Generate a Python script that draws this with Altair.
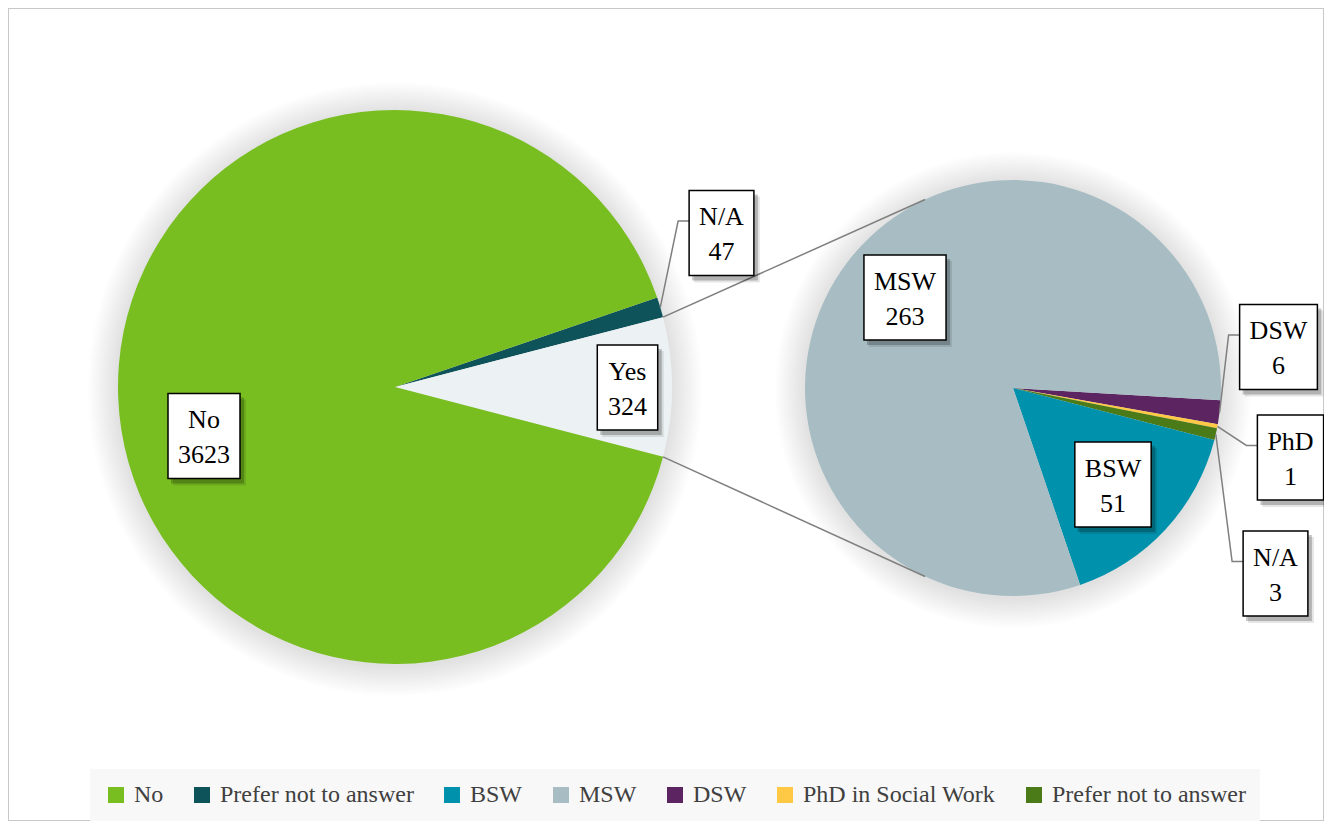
import math
import altair as alt
import pandas as pd

# ---------------- data ----------------
main_categories = ["No", "Prefer not to answer", "Yes"]
main_labels = ["No", "N/A", "Yes"]
main_values = [3623, 47, 324]

sub_categories = ["MSW", "BSW", "DSW", "PhD in Social Work", "Prefer not to answer"]
sub_labels = ["MSW", "BSW", "DSW", "PhD", "N/A"]
sub_values = [263, 51, 6, 1, 3]

legend_keys = ["No", "Prefer not to answer", "BSW", "MSW", "DSW",
               "PhD in Social Work", "Prefer not to answer (sub)"]

# ---------------- layout / style ----------------
W, H = 1316, 813
FONT = "Liberation Serif"
LEFT = dict(cx=387.0, cy=379.0, r=277.0)
RIGHT = dict(cx=1005.0, cy=380.0, r=208.0)
legend_colors = ["#78BE21", "#0E525A", "#0092AC", "#A7BDC3", "#5C2561", "#FFC845", "#4B7A19"]
yes_color = "#ECF2F3"
main_draw = ["N/A", "Yes", "No"]
sub_draw = ["DSW", "PhD", "N/A", "BSW", "MSW"]
sub_start_deg = 93.4
connector_deg = 25.0
label_offsets = {
    ("main", "No"): (-191, 49), ("main", "N/A"): (326.5, -154), ("main", "Yes"): (232.5, 0.5),
    ("sub", "MSW"): (-108, -90.5), ("sub", "BSW"): (100, 96.5), ("sub", "DSW"): (265.5, -41),
    ("sub", "PhD"): (277.5, 69.5), ("sub", "N/A"): (262.5, 185.5),
}
leader_labels = {("main", "N/A"), ("sub", "DSW"), ("sub", "PhD"), ("sub", "N/A")}
LABEL_FS = 26
BOX_H = 85
CW = {'N': .722, 'o': .5, '/': .278, 'A': .722, 'Y': .722, 'e': .444, 's': .389, 'M': .889,
      'S': .556, 'W': .944, 'B': .667, 'D': .722, 'P': .556, 'h': .5}


def text_w(s):
    return sum(CW.get(c, 0.5) for c in s) * LABEL_FS


def polar(c, r, deg):
    a = math.radians(deg)
    return c["cx"] + r * math.sin(a), c["cy"] - r * math.cos(a)


def slices(pie, labels, cats, values, order, start):
    total = sum(values)
    rows, ang = [], start
    for k, lab in enumerate(order):
        i = labels.index(lab)
        span = values[i] / total * 360
        cat = cats[i]
        if pie == "sub" and cat == "Prefer not to answer":
            cat = "Prefer not to answer (sub)"
        rows.append(dict(pie=pie, label=lab, key=cat, value=values[i], ord=k,
                         a0=ang, a1=ang + span, mid=ang + span / 2))
        ang += span
    return rows, total


main_total = sum(main_values)
main_start = 90 - (main_values[2] / 2 + main_values[1]) / main_total * 360
main_rows, _ = slices("main", main_labels, main_categories, main_values, main_draw, main_start)
sub_rows, sub_total = slices("sub", sub_labels, sub_categories, sub_values, sub_draw, sub_start_deg)
main_df = pd.DataFrame(main_rows)
sub_df = pd.DataFrame(sub_rows)

# label boxes
boxes = []
leaders = []
for rows, pie, geo in ((main_rows, "main", LEFT), (sub_rows, "sub", RIGHT)):
    for row in rows:
        lab = row["label"]
        dx, dy = label_offsets[(pie, lab)]
        bx, by = geo["cx"] + dx, geo["cy"] + dy
        bw = max(text_w(lab), text_w(str(row["value"]))) + 20
        boxes.append(dict(name=lab, val=str(row["value"]), cx=bx, cy=by,
                          x1=bx - bw / 2, x2=bx + bw / 2, y1=by - BOX_H / 2, y2=by + BOX_H / 2,
                          ty1=by - 8, ty2=by + 27))
        if (pie, lab) in leader_labels:
            ex, ey = polar(geo, geo["r"], row["mid"])
            lx = bx - bw / 2
            ly = by - 12
            lid = pie + lab
            leaders += [dict(id=lid, o=0, x=ex, y=ey), dict(id=lid, o=1, x=lx - 11, y=ly),
                        dict(id=lid, o=2, x=lx, y=ly)]
box_df = pd.DataFrame(boxes)
leader_df = pd.DataFrame(leaders)

# connector lines between the pies
yes_row = [r for r in main_rows if r["label"] == "Yes"][0]
p_top = polar(LEFT, LEFT["r"], yes_row["a0"])
p_bot = polar(LEFT, LEFT["r"], yes_row["a1"])
q_top = polar(RIGHT, RIGHT["r"], 360 - connector_deg)
q_bot = polar(RIGHT, RIGHT["r"], 180 + connector_deg)
conn_df = pd.DataFrame([
    dict(id="t", o=0, x=p_top[0], y=p_top[1]), dict(id="t", o=1, x=q_top[0], y=q_top[1]),
    dict(id="b", o=0, x=p_bot[0], y=p_bot[1]), dict(id="b", o=1, x=q_bot[0], y=q_bot[1]),
])

# ---------------- chart ----------------
xs = alt.Scale(domain=[0, W], range=[0, W], nice=False, zero=False)
ys = alt.Scale(domain=[0, H], range=[0, H], nice=False, zero=False)
color_scale = alt.Scale(domain=legend_keys + ["Yes"], range=legend_colors + [yes_color])
legend = alt.Legend(
    title=None, orient="none", legendX=82, legendY=761, direction="horizontal",
    values=legend_keys, symbolType="square", symbolSize=256, symbolStrokeWidth=0,
    labelFont=FONT, labelFontSize=24, labelColor="#404040", labelOffset=6, labelLimit=500,
    columnPadding=26, padding=14, fillColor="#F8F8F8",
    labelExpr="datum.label == 'Prefer not to answer (sub)' ? 'Prefer not to answer' : datum.label",
)


def glow_layers(geo):
    layers = []
    for k in range(1, 16):
        layers.append(
            alt.Chart(main_df).transform_filter("datum.ord == 0").mark_arc(
                radius=geo["r"] + 2 * k, theta=0, theta2=2 * math.pi,
                color="black", opacity=0.0085,
            ).encode(x=alt.value(geo["cx"]), y=alt.value(geo["cy"] + 2))
        )
    return layers


def pie_layer(df, geo, start, total):
    s = math.radians(start)
    return alt.Chart(df).mark_arc(radius=geo["r"]).encode(
        theta=alt.Theta("value:Q", stack=True,
                        scale=alt.Scale(domain=[0, total], range=[s, s + 2 * math.pi])),
        order=alt.Order("ord:Q"),
        color=alt.Color("key:N", scale=color_scale, legend=legend),
        x=alt.value(geo["cx"]), y=alt.value(geo["cy"]),
    )


left_pie = pie_layer(main_df, LEFT, main_start, main_total)
right_pie = pie_layer(sub_df, RIGHT, sub_start_deg, sub_total)

conn = alt.Chart(conn_df).mark_line(strokeWidth=1.5, color="#7F7F7F").encode(
    x=alt.X("x:Q", scale=xs, axis=None), y=alt.Y("y:Q", scale=ys, axis=None),
    detail="id:N", order="o:Q")
lead = alt.Chart(leader_df).mark_line(strokeWidth=1.5, color="#7F7F7F").encode(
    x=alt.X("x:Q", scale=xs, axis=None), y=alt.Y("y:Q", scale=ys, axis=None),
    detail="id:N", order="o:Q")

bshadow1 = alt.Chart(box_df).transform_calculate(
    sx1="datum.x1 + 3", sx2="datum.x2 + 4", sy1="datum.y1 + 4", sy2="datum.y2 + 5"
).mark_rect(color="black", opacity=0.22).encode(
    x=alt.X("sx1:Q", scale=xs, axis=None), x2="sx2:Q",
    y=alt.Y("sy1:Q", scale=ys, axis=None), y2="sy2:Q")
bshadow2 = alt.Chart(box_df).transform_calculate(
    sx1="datum.x1 + 5", sx2="datum.x2 + 6", sy1="datum.y1 + 6", sy2="datum.y2 + 7"
).mark_rect(color="black", opacity=0.1).encode(
    x=alt.X("sx1:Q", scale=xs, axis=None), x2="sx2:Q",
    y=alt.Y("sy1:Q", scale=ys, axis=None), y2="sy2:Q")
box = alt.Chart(box_df).mark_rect(fill="white", stroke="black", strokeWidth=1.5).encode(
    x=alt.X("x1:Q", scale=xs, axis=None), x2="x2:Q",
    y=alt.Y("y1:Q", scale=ys, axis=None), y2="y2:Q")
t1 = alt.Chart(box_df).mark_text(font=FONT, fontSize=LABEL_FS, color="black",
                                 align="center", baseline="alphabetic").encode(
    x=alt.X("cx:Q", scale=xs, axis=None), y=alt.Y("ty1:Q", scale=ys, axis=None), text="name:N")
t2 = alt.Chart(box_df).mark_text(font=FONT, fontSize=LABEL_FS, color="black",
                                 align="center", baseline="alphabetic").encode(
    x=alt.X("cx:Q", scale=xs, axis=None), y=alt.Y("ty2:Q", scale=ys, axis=None), text="val:N")

chart = alt.layer(
    *glow_layers(LEFT), *glow_layers(RIGHT),
    left_pie, right_pie, conn, lead, bshadow1, bshadow2, box, t1, t2
).resolve_scale(theta="independent").properties(
    width=W, height=H, autosize=alt.AutoSizeParams(type="none"), padding=0,
    background="white",
).configure_view(stroke="#C8C8C8", strokeWidth=2)

chart.save("out.html", embed_options={"renderer": "svg", "actions": False})
